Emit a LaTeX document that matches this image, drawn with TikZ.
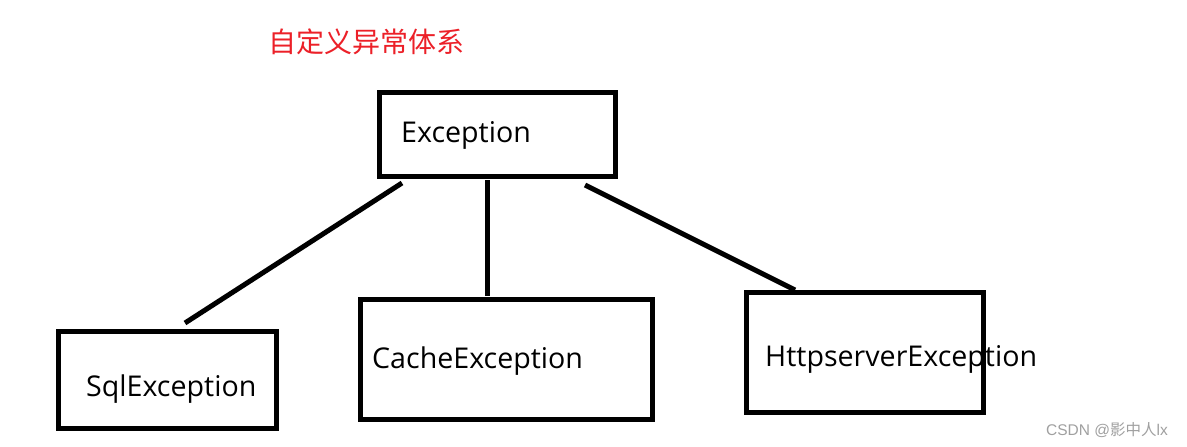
\documentclass[tikz,border=0pt]{standalone}
\usepackage{fontspec}
\setmainfont{Open Sans}
\newfontfamily\cjk{Noto Sans CJK SC}
\newfontfamily\wmfont{Liberation Sans}
\definecolor{titlered}{RGB}{236,32,40}
\definecolor{wmgray}{RGB}{160,160,160}
\begin{document}
\begin{tikzpicture}[x=1pt,y=-1pt,
  box/.style={draw=black,line width=5pt,fill=none},
  lbl/.style={anchor=base west,inner sep=0pt,font=\fontsize{28.6}{30}\selectfont},
  conn/.style={line width=5pt}]
\useasboundingbox[fill=white] (0,0) rectangle (1187,447);
% title
\node[anchor=west,inner sep=0pt,text=titlered,font=\cjk\fontsize{28}{30}\selectfont] (title) at (268,42) {自定义异常体系};
% labels
\node[lbl] (texc) at (401,142) {Exception};
\node[lbl] (tsql) at (86,396) {SqlException};
\node[lbl] (tcache) at (372,368) {CacheException};
\node[lbl] (thttp) at (765,366) {HttpserverException};
% boxes
\node[box,minimum width=236pt,minimum height=84pt,inner sep=0pt] (exc) at (497.5,134.25) {};
\node[box,minimum width=218pt,minimum height=97pt,inner sep=0pt] (sql) at (167.5,379.5) {};
\node[box,minimum width=292pt,minimum height=120pt,inner sep=0pt] (cache) at (506,359.5) {};
\node[box,minimum width=237pt,minimum height=120pt,inner sep=0pt] (http) at (864.5,352.5) {};
% connectors
\coordinate (a1) at (402,183);
\coordinate (a2) at (185,323);
\coordinate (b1) at (487,180);
\coordinate (b2) at (487,296);
\coordinate (c1) at (585,185);
\coordinate (c2) at (795,290);
\draw[conn] (a1) -- (a2);
\draw[conn] (b1) -- (b2);
\draw[conn] (c1) -- (c2);
% watermark
\node[anchor=west,inner sep=0pt,text=wmgray,font=\wmfont\fontsize{15.5}{17}\selectfont] (wm) at (1046,430) {CSDN @{\cjk 影中人}lx};
\end{tikzpicture}
\end{document}
